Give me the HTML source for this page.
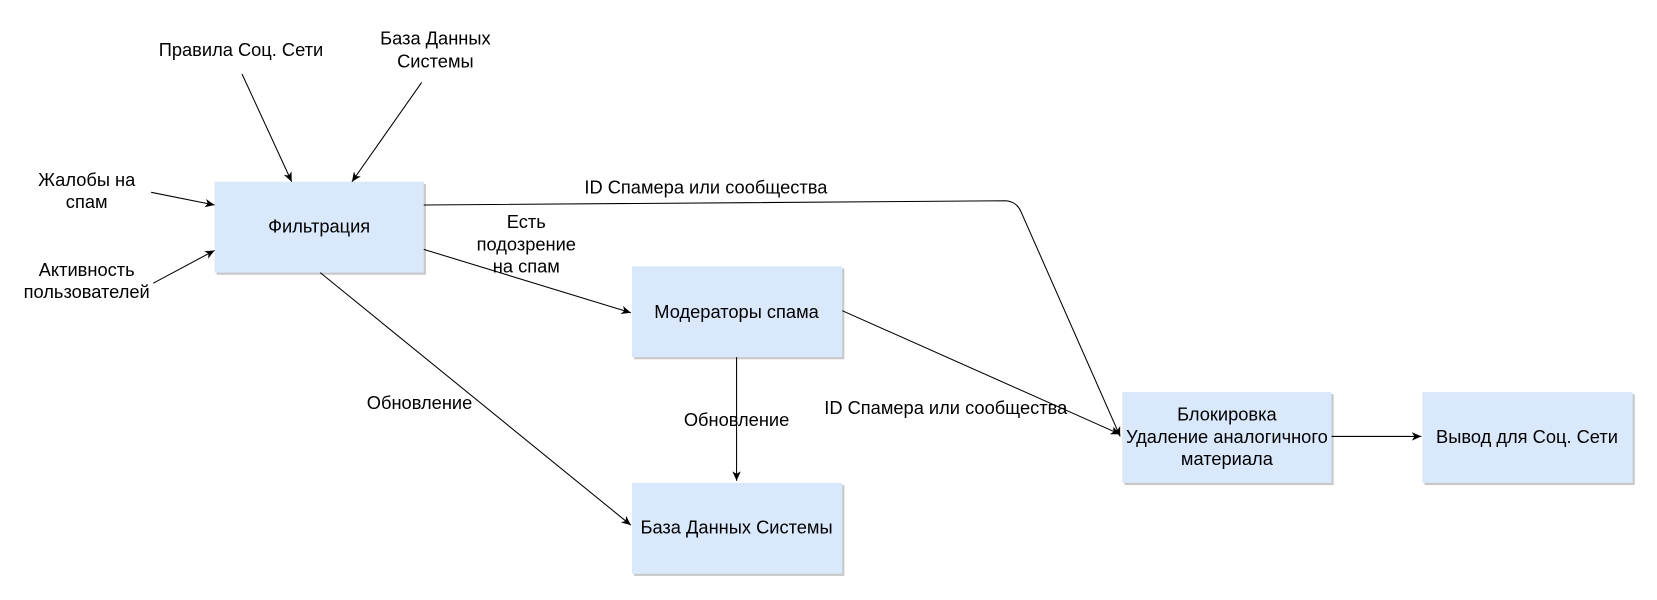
<!DOCTYPE html>
<html><head><meta charset="utf-8"><style>
html,body{margin:0;padding:0;background:#fff;width:1657px;height:600px;overflow:hidden}
text{font-family:"Liberation Sans","DejaVu Sans",sans-serif;font-size:17.3px;fill:#000}
</style></head><body>
<svg width="1657" height="600" viewBox="0 0 1568 567.8" xmlns="http://www.w3.org/2000/svg">
<defs>
<marker id="a" markerWidth="10" markerHeight="8" refX="9" refY="4" orient="auto" markerUnits="userSpaceOnUse">
<path d="M0,0 L9,4 L0,8 L2.5,4 Z" fill="#000"/></marker>
</defs>
<g fill="#c8c8c8">
<rect x="205" y="174" width="198" height="86"/>
<rect x="600" y="254" width="199" height="86"/>
<rect x="600" y="459" width="199" height="86"/>
<rect x="1064" y="373" width="198" height="86"/>
<rect x="1348" y="373" width="199" height="86"/>
</g>
<g fill="#dae8fc">
<rect x="203" y="172" width="198" height="86"/>
<rect x="598" y="252" width="199" height="86"/>
<rect x="598" y="457" width="199" height="86"/>
<rect x="1062" y="371" width="198" height="86"/>
<rect x="1346" y="371" width="199" height="86"/>
</g>
<g stroke="#000" stroke-width="1" fill="none" marker-end="url(#a)">
<line x1="229" y1="70" x2="276" y2="172"/>
<line x1="399" y1="78" x2="333" y2="172"/>
<line x1="143" y1="182" x2="203" y2="194"/>
<line x1="145" y1="268" x2="203" y2="237"/>
<path d="M401,194 L952,190 Q962,191 966,200 L1060,413"/>
<line x1="401" y1="236" x2="597" y2="296"/>
<line x1="303" y1="258" x2="597" y2="497"/>
<line x1="697" y1="338" x2="697" y2="455"/>
<line x1="797" y1="294" x2="1060" y2="411"/>
<line x1="1260" y1="413" x2="1345" y2="413"/>
</g>
<g text-anchor="middle">
<text x="228" y="53">Правила Соц. Сети</text>
<text x="412" y="42">База Данных</text>
<text x="412" y="64">Системы</text>
<text x="82" y="176">Жалобы на</text>
<text x="82" y="197">спам</text>
<text x="82" y="261">Активность</text>
<text x="82" y="282">пользователей</text>
<text x="302" y="220">Фильтрация</text>
<text x="668" y="183">ID Спамера или сообщества</text>
<text x="498" y="216">Есть</text>
<text x="498" y="237">подозрение</text>
<text x="498" y="258">на спам</text>
<text x="697" y="301">Модераторы спама</text>
<text x="397" y="387">Обновление</text>
<text x="697" y="403">Обновление</text>
<text x="895" y="392">ID Спамера или сообщества</text>
<text x="697" y="505">База Данных Системы</text>
<text x="1161" y="398">Блокировка</text>
<text x="1161" y="419">Удаление аналогичного</text>
<text x="1161" y="440">материала</text>
<text x="1445" y="419">Вывод для Соц. Сети</text>
</g>
</svg>
</body></html>
